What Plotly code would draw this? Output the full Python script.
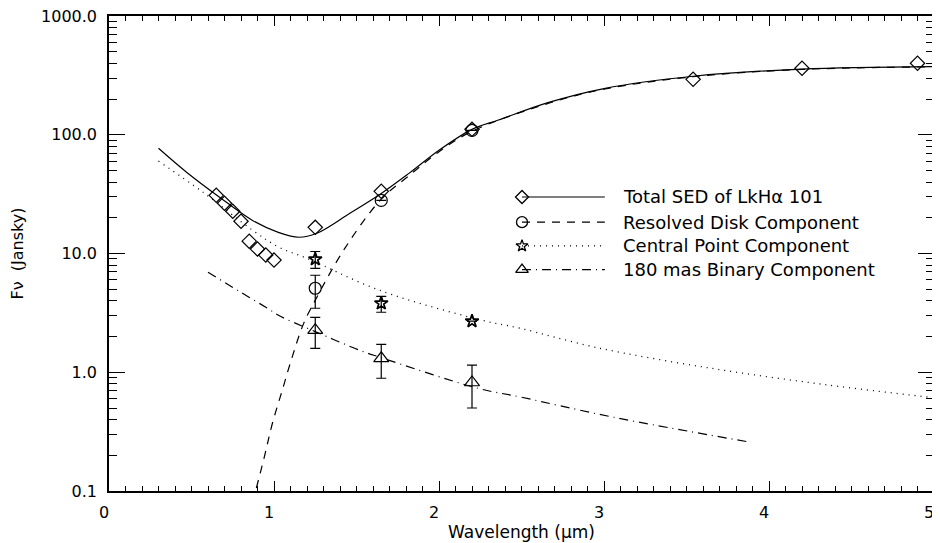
import plotly.graph_objects as go

# ---------------- data ----------------
# Total SED photometry (diamonds)
sed_pts_x = [0.65, 0.70, 0.75, 0.80, 0.85, 0.90, 0.95, 1.00, 1.25, 1.65, 2.20, 3.54, 4.20, 4.90]
sed_pts_y = [30.9, 26.5, 22.7, 18.7, 12.7, 10.9, 9.7, 8.8, 16.6, 33.4, 111.0, 293.0, 363.0, 400.0]

# Resolved disk component (circles)
disk_pts_x = [1.25, 1.65, 2.20]
disk_pts_y = [5.1, 28.0, 109.0]
disk_err_hi = [1.46, 0.0, 0.0]
disk_err_lo = [1.64, 0.0, 0.0]

# Central point component (stars)
pt_pts_x = [1.25, 1.65, 2.20]
pt_pts_y = [8.95, 3.81, 2.69]
pt_err_hi = [1.45, 0.55, 0.0]
pt_err_lo = [1.45, 0.61, 0.0]

# 180 mas binary component (triangles)
bin_pts_x = [1.25, 1.65, 2.20]
bin_pts_y = [2.26, 1.31, 0.82]
bin_err_hi = [0.64, 0.41, 0.33]
bin_err_lo = [0.67, 0.42, 0.32]

# Model curves
sed_curve_x = [0.30, 0.47, 0.67, 0.87, 1.03, 1.15, 1.26, 1.46, 1.65, 1.82, 2.00, 2.20, 2.36, 2.67, 3.00, 3.54, 4.20, 5.00]
sed_curve_y = [77.0, 48.4, 29.8, 19.0, 15.0, 13.7, 14.8, 21.8, 32.0, 47.5, 74.0, 111.0, 133.0, 188.0, 245.0, 311.0, 357.0, 375.0]

disk_curve_x = [0.87, 0.94, 0.99, 1.05, 1.11, 1.18, 1.25, 1.43, 1.65, 1.82, 2.00, 2.20, 2.67, 3.00, 3.54, 4.20, 5.00]
disk_curve_y = [0.08, 0.19, 0.37, 0.705, 1.34, 2.58, 4.04, 11.1, 28.7, 45.4, 72.0, 107.0, 185.0, 242.0, 308.0, 355.0, 373.0]

pt_curve_x = [0.30, 0.57, 0.87, 1.03, 1.20, 1.64, 2.26, 2.49, 2.95, 3.65, 4.36, 5.00]
pt_curve_y = [60.0, 32.8, 15.7, 11.3, 9.1, 4.9, 2.74, 2.35, 1.62, 1.08, 0.78, 0.61]

bin_curve_x = [0.60, 0.79, 0.96, 1.03, 1.25, 1.52, 1.64, 2.24, 2.49, 3.05, 3.89]
bin_curve_y = [6.95, 4.8, 3.46, 3.0, 2.2, 1.53, 1.34, 0.73, 0.62, 0.42, 0.257]

legend_labels = ["Total SED of LkH\u03b1 101", "Resolved Disk Component",
                 "Central Point Component", "180 mas Binary Component"]

x_ticks = [0, 1, 2, 3, 4, 5]
y_ticks = [0.1, 1, 10, 100, 1000]
y_ticktext = ["0.1", "1.0", "10.0", "100.0", "1000.0"]
y_minor = [m * 10.0 ** e for e in range(-1, 3) for m in range(2, 10)]
x_minor = [i / 10 for i in range(0, 51) if i % 10 != 0]

# ---------------- figure ----------------
BLK = "black"
FONT = "DejaVu Sans"
fig = go.Figure()

line_styles = {
    "solid": "solid",
    "dash": "8px,7px",
    "dot": "1px,5px",
    "dashdot": "9px,5px,1px,5px",
}

fig.add_trace(go.Scatter(x=sed_curve_x, y=sed_curve_y, mode="lines",
                         line=dict(color=BLK, width=1.2, dash=line_styles["solid"], shape="spline", smoothing=1.0),
                         showlegend=False, hoverinfo="skip"))
fig.add_trace(go.Scatter(x=disk_curve_x, y=disk_curve_y, mode="lines",
                         line=dict(color=BLK, width=1.2, dash=line_styles["dash"], shape="spline", smoothing=1.0),
                         showlegend=False, hoverinfo="skip"))
fig.add_trace(go.Scatter(x=pt_curve_x, y=pt_curve_y, mode="lines",
                         line=dict(color=BLK, width=1.3, dash=line_styles["dot"], shape="spline", smoothing=1.0),
                         showlegend=False, hoverinfo="skip"))
fig.add_trace(go.Scatter(x=bin_curve_x, y=bin_curve_y, mode="lines",
                         line=dict(color=BLK, width=1.2, dash=line_styles["dashdot"], shape="spline", smoothing=1.0),
                         showlegend=False, hoverinfo="skip"))

fig.add_trace(go.Scatter(x=sed_pts_x, y=sed_pts_y, mode="markers",
                         marker=dict(symbol="diamond-open", size=11, color=BLK, line=dict(width=1.2)),
                         showlegend=False))
fig.add_trace(go.Scatter(x=disk_pts_x, y=disk_pts_y, mode="markers",
                         marker=dict(symbol="circle-open", size=12, color=BLK, line=dict(width=1.2)),
                         error_y=dict(type="data", array=disk_err_hi, arrayminus=disk_err_lo,
                                      color=BLK, thickness=1.2, width=5),
                         showlegend=False))
fig.add_trace(go.Scatter(x=pt_pts_x, y=pt_pts_y, mode="markers",
                         marker=dict(symbol="star-open", size=10, color=BLK, line=dict(width=1.7)),
                         error_y=dict(type="data", array=pt_err_hi, arrayminus=pt_err_lo,
                                      color=BLK, thickness=1.2, width=5),
                         showlegend=False))
fig.add_trace(go.Scatter(x=bin_pts_x, y=bin_pts_y, mode="markers",
                         marker=dict(symbol="triangle-up-open", size=13, color=BLK, line=dict(width=1.2)),
                         error_y=dict(type="data", array=bin_err_hi, arrayminus=bin_err_lo,
                                      color=BLK, thickness=1.2, width=5),
                         showlegend=False))

# ---------------- hand-built legend on an overlay axis (0..1 units) ----------------
leg_symbols = ["diamond-open", "circle-open", "star-open", "triangle-up-open"]
leg_sizes = [10, 11, 9, 11]
leg_dashes = ["solid", line_styles["dash"], line_styles["dot"], line_styles["dashdot"]]
leg_x0, leg_x1, leg_xt = 0.5006, 0.601, 0.621
leg_y = [0.619, 0.566, 0.516, 0.466]
for i in range(4):
    fig.add_trace(go.Scatter(x=[leg_x0, leg_x1], y=[leg_y[i], leg_y[i]], xaxis="x2", yaxis="y2",
                             mode="lines", line=dict(color=BLK, width=1.2, dash=leg_dashes[i]),
                             showlegend=False, hoverinfo="skip"))
    fig.add_trace(go.Scatter(x=[leg_x0], y=[leg_y[i]], xaxis="x2", yaxis="y2", mode="markers",
                             marker=dict(symbol=leg_symbols[i], size=leg_sizes[i], color=BLK,
                                         line=dict(width=1.3)),
                             showlegend=False, hoverinfo="skip"))
    fig.add_annotation(x=leg_xt, y=leg_y[i], xref="x2", yref="y2", text=legend_labels[i],
                       showarrow=False, xanchor="left", yanchor="middle",
                       font=dict(family=FONT, size=18, color=BLK))

# the page body has an 8px default margin, so the figure is sized to fit the 940x543 window
fig.update_layout(
    width=932, height=535,
    margin=dict(l=101, r=6, t=8, b=52, autoexpand=False),
    paper_bgcolor="white", plot_bgcolor="white",
    showlegend=False,
    font=dict(family=FONT, size=15, color=BLK),
    xaxis=dict(range=[0, 5], tickmode="array", tickvals=x_ticks, ticktext=[str(t) for t in x_ticks],
               ticks="inside", ticklen=10, tickwidth=1.2, tickcolor=BLK, automargin=False,
               showline=True, linecolor=BLK, linewidth=1.5, mirror="allticks",
               showgrid=False, zeroline=False, ticklabeloverflow="allow", ticklabelshift=-5,
               minor=dict(tickmode="array", tickvals=x_minor, ticks="inside", ticklen=5,
                          tickwidth=1, tickcolor=BLK, showgrid=False),
               title=dict(text="Wavelength (\u03bcm)", font=dict(family=FONT, size=17), standoff=2),
               tickfont=dict(family=FONT, size=16), ticklabelstandoff=6),
    yaxis=dict(type="log", range=[-1, 3], tickmode="array", tickvals=y_ticks, ticktext=y_ticktext,
               ticks="inside", ticklen=16, tickwidth=1.2, tickcolor=BLK, automargin=False,
               showline=True, linecolor=BLK, linewidth=1.5, mirror="allticks",
               showgrid=False, zeroline=False, ticklabeloverflow="allow",
               minor=dict(tickmode="array", tickvals=y_minor, ticks="inside", ticklen=8,
                          tickwidth=1, tickcolor=BLK, showgrid=False),
               title=dict(text="F\u03bd  (Jansky)", font=dict(family=FONT, size=16), standoff=24),
               tickfont=dict(family=FONT, size=16), ticklabelstandoff=7),
    xaxis2=dict(overlaying="x", range=[0, 1], visible=False, fixedrange=True),
    yaxis2=dict(overlaying="y", range=[0, 1], visible=False, fixedrange=True),
)

fig.write_html("out.html")
